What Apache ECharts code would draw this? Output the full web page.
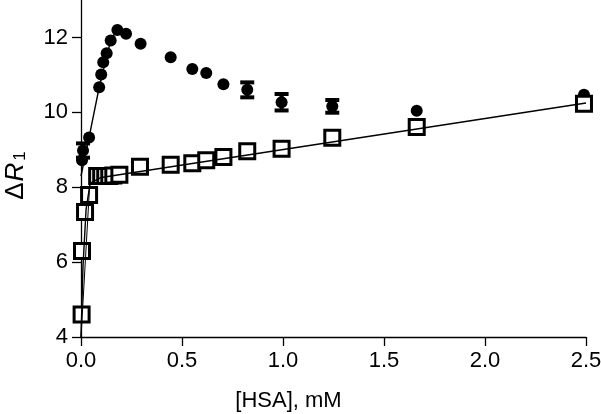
<!DOCTYPE html>
<html><head><meta charset="utf-8">
<script src="https://cdn.jsdelivr.net/npm/echarts@6/dist/echarts.min.js"></script>
<style>html,body{margin:0;padding:0;background:#fff}#c{width:601px;height:414px}</style>
</head><body><div id="c"></div>
<script>
// Filled circles
var circleX = [0.005, 0.01, 0.04, 0.09, 0.1, 0.11, 0.127, 0.147, 0.18, 0.223, 0.295, 0.444, 0.551, 0.62, 0.705, 0.823, 0.993, 1.244, 1.662, 2.49];
var circleY = [8.72, 8.98, 9.33, 10.67, 11.01, 11.34, 11.58, 11.92, 12.2, 12.1, 11.83, 11.47, 11.16, 11.05, 10.75, 10.6, 10.27, 10.16, 10.04, 10.47];
var circleErr = [0, 0.19, 0, 0, 0, 0, 0, 0, 0, 0, 0, 0, 0, 0, 0, 0.2, 0.22, 0.17, 0, 0];
// Open squares
var squareX = [0.003, 0.005, 0.02, 0.04, 0.08, 0.1, 0.12, 0.14, 0.16, 0.19, 0.292, 0.444, 0.551, 0.62, 0.705, 0.823, 0.993, 1.244, 1.662, 2.49];
var squareY = [4.6, 6.3, 7.34, 7.79, 8.3, 8.3, 8.3, 8.3, 8.31, 8.33, 8.55, 8.6, 8.64, 8.72, 8.81, 8.96, 9.03, 9.32, 9.61, 10.23];
// Fit lines
var circleFitX = [0.0, 0.04, 0.09, 0.147, 0.18];
var circleFitY = [8.3, 9.33, 10.67, 11.92, 12.2];
var squareFitX = [0.0, 0.01, 0.025, 0.045, 0.1, 2.5];
var squareFitY = [4.0, 5.9, 7.4, 8.1, 8.26, 10.25];
var squareFit2X = [0.0, 0.045];
var squareFit2Y = [4.0, 8.25];
var xTicks = [0, 0.5, 1.0, 1.5, 2.0, 2.5];
var yTicks = [4, 6, 8, 10, 12];

function zip(a, b) { return a.map(function (v, i) { return [v, b[i]]; }); }
var errData = [];
circleX.forEach(function (x, i) { if (circleErr[i] > 0) errData.push([x, circleY[i] - circleErr[i], circleY[i] + circleErr[i]]); });

var font = 'Liberation Sans, Arial, sans-serif';
var chart = echarts.init(document.getElementById('c'), null, {renderer: 'canvas'});
chart.setOption({
  animation: false,
  backgroundColor: '#fff',
  grid: {left: 81, right: 15, top: 0, bottom: 77, containLabel: false, outerBoundsMode: 'none'},
  xAxis: {
    type: 'value', min: 0, max: 2.5, interval: 0.5,
    axisLine: {lineStyle: {color: '#000', width: 1.3}},
    axisTick: {length: 9, lineStyle: {color: '#000', width: 1.3}},
    axisLabel: {color: '#000', fontSize: 22, fontFamily: font, margin: 13,
      formatter: function (v) { return v.toFixed(1); }},
    splitLine: {show: false},
    name: '[HSA], mM', nameLocation: 'middle', nameGap: 53,
    nameTextStyle: {color: '#000', fontSize: 22, fontFamily: font, padding: [0, 90, 0, 0]}
  },
  yAxis: {
    type: 'value', min: 4, max: 13,
    axisLine: {show: true, lineStyle: {color: '#000', width: 1.3}},
    axisTick: {show: true, length: 9, customValues: yTicks, lineStyle: {color: '#000', width: 1.3}},
    axisLabel: {color: '#000', fontSize: 22, fontFamily: font, margin: 13, customValues: yTicks},
    splitLine: {show: false},
    name: '{a|Δ}{i|R}{s|1}', nameLocation: 'middle', nameGap: 52, nameRotate: 90,
    nameTextStyle: {
      color: '#000', fontFamily: font, padding: [0, 14, 0, 0],
      rich: {
        a: {fontSize: 26, fontFamily: font, color: '#000', padding: [0, 1, 0, 0]},
        i: {fontSize: 26, fontFamily: font, fontStyle: 'italic', color: '#000'},
        s: {fontSize: 17, fontFamily: font, color: '#000', verticalAlign: 'bottom', padding: [8, 0, 0, 2]}
      }
    }
  },
  series: [
    {type: 'scatter', data: zip(circleX, circleY), symbol: 'circle', symbolSize: 12,
      itemStyle: {color: '#000', opacity: 1}, z: 2},
    {type: 'custom', data: errData, z: 3,
      renderItem: function (params, api) {
        var x = api.value(0);
        var lo = api.coord([x, api.value(1)]);
        var hi = api.coord([x, api.value(2)]);
        var w = 7;
        var st = {stroke: '#000', lineWidth: 4};
        return {type: 'group', children: [
          {type: 'line', shape: {x1: lo[0], y1: lo[1], x2: hi[0], y2: hi[1]}, style: {stroke: '#000', lineWidth: 4}},
          {type: 'line', shape: {x1: lo[0] - w, y1: lo[1], x2: lo[0] + w, y2: lo[1]}, style: st},
          {type: 'line', shape: {x1: hi[0] - w, y1: hi[1], x2: hi[0] + w, y2: hi[1]}, style: st}
        ]};
      }},
    {type: 'scatter', data: zip(squareX, squareY), symbol: 'rect', symbolSize: 15,
      itemStyle: {color: '#fff', borderColor: '#000', borderWidth: 3, opacity: 1}, z: 4},
    {type: 'line', data: zip(circleFitX, circleFitY), showSymbol: false, symbol: 'none',
      lineStyle: {color: '#000', width: 1.4}, z: 5},
    {type: 'line', data: zip(squareFitX, squareFitY), showSymbol: false, symbol: 'none', smooth: false,
      lineStyle: {color: '#000', width: 1.4}, z: 5},
    {type: 'line', data: zip(squareFit2X, squareFit2Y), showSymbol: false, symbol: 'none',
      lineStyle: {color: '#000', width: 1}, z: 5}
  ]
});
</script></body></html>
